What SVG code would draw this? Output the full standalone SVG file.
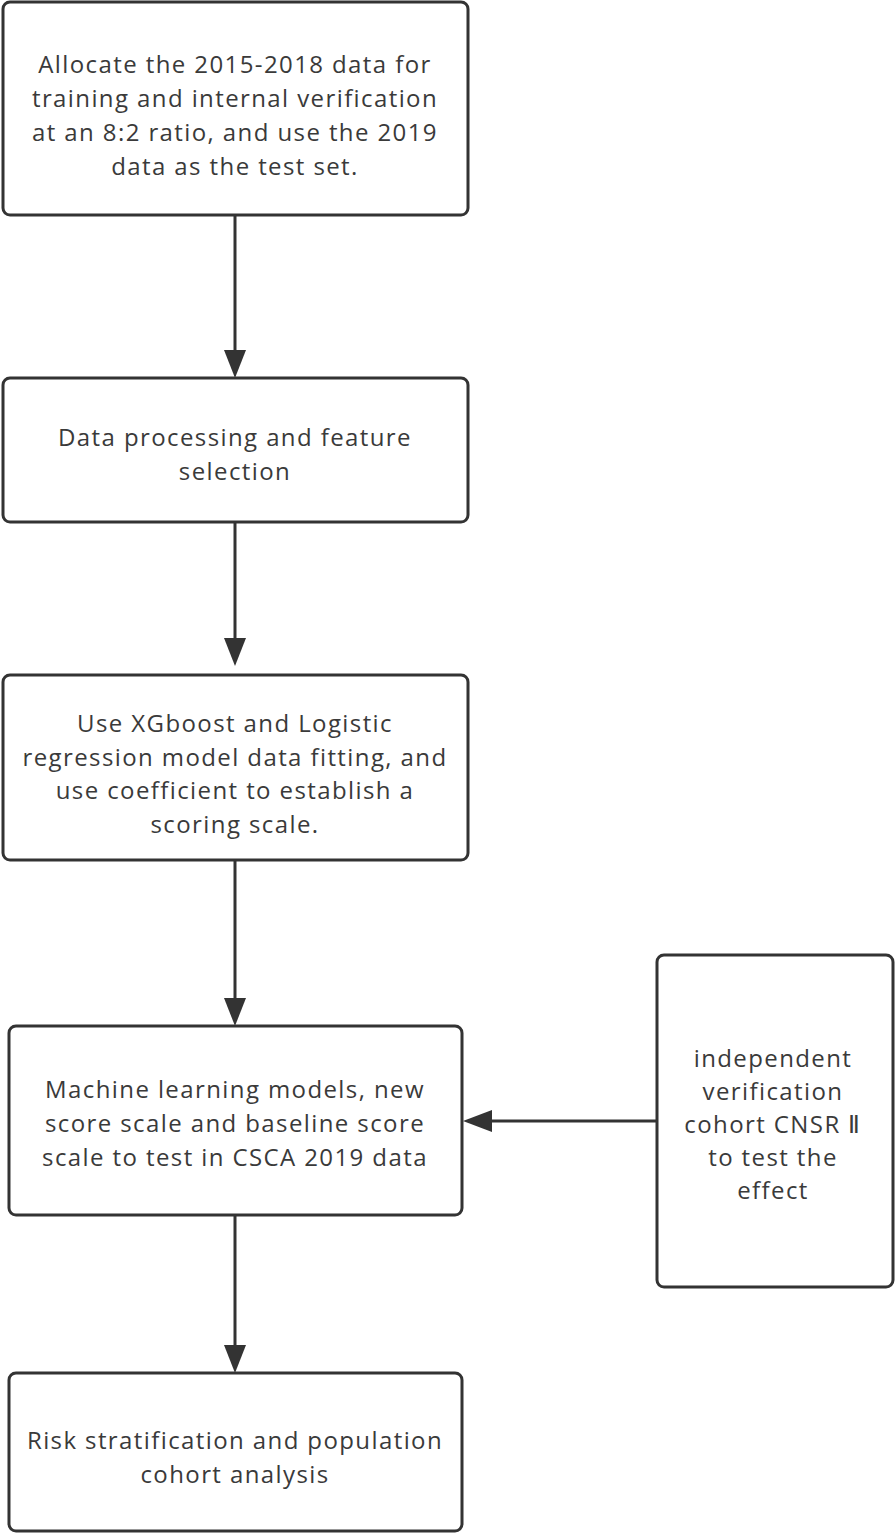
<svg xmlns="http://www.w3.org/2000/svg" width="896" height="1534" viewBox="0 0 896 1534">
<defs>
<style>
.box{fill:#fff;stroke:#333;stroke-width:3}
.t{font-family:"Open Sans","Noto Sans",sans-serif;font-size:24px;letter-spacing:1.4px;fill:#3a3a3a;text-anchor:middle;dominant-baseline:central}
.c{stroke:#333;stroke-width:3;fill:none}
.ah{fill:#333}
</style>
</defs>
<rect width="896" height="1534" fill="#fff"/>
<g id="connectors">
<line class="c" x1="235" y1="215" x2="235" y2="352"/>
<polygon class="ah" points="224,350 246,350 235,378"/>
<line class="c" x1="235" y1="522" x2="235" y2="640"/>
<polygon class="ah" points="224,638 246,638 235,666"/>
<line class="c" x1="235" y1="860" x2="235" y2="1000"/>
<polygon class="ah" points="224,998 246,998 235,1026"/>
<line class="c" x1="235" y1="1215" x2="235" y2="1347"/>
<polygon class="ah" points="224,1345 246,1345 235,1373"/>
<line class="c" x1="657" y1="1121" x2="490" y2="1121"/>
<polygon class="ah" points="492,1110 492,1132 463,1121"/>
</g>
<g id="n1">
<rect class="box" x="3" y="2" width="465" height="213" rx="7"/>
<text class="t" x="235" y="63">Allocate the 2015-2018 data for</text>
<text class="t" x="235" y="97">training and internal verification</text>
<text class="t" x="235" y="131">at an 8:2 ratio, and use the 2019</text>
<text class="t" x="235" y="165">data as the test set.</text>
</g>
<g id="n2">
<rect class="box" x="3" y="378" width="465" height="144" rx="7"/>
<text class="t" x="235" y="436">Data processing and feature</text>
<text class="t" x="235" y="470">selection</text>
</g>
<g id="n3">
<rect class="box" x="3" y="675" width="465" height="185" rx="7"/>
<text class="t" x="235" y="722">Use XGboost and Logistic</text>
<text class="t" x="235" y="756">regression model data fitting, and</text>
<text class="t" x="235" y="789">use coefficient to establish a</text>
<text class="t" x="235" y="823">scoring scale.</text>
</g>
<g id="n4">
<rect class="box" x="9" y="1026" width="453" height="189" rx="7"/>
<text class="t" x="235" y="1088">Machine learning models, new</text>
<text class="t" x="235" y="1122">score scale and baseline score</text>
<text class="t" x="235" y="1156">scale to test in CSCA 2019 data</text>
</g>
<g id="n5">
<rect class="box" x="657" y="955" width="236" height="332" rx="7"/>
<text class="t" x="773" y="1057">independent</text>
<text class="t" x="773" y="1090">verification</text>
<text class="t" x="773" y="1123">cohort CNSR Ⅱ</text>
<text class="t" x="773" y="1156">to test the</text>
<text class="t" x="773" y="1189">effect</text>
</g>
<g id="n6">
<rect class="box" x="9" y="1373" width="453" height="158" rx="7"/>
<text class="t" x="235" y="1439">Risk stratification and population</text>
<text class="t" x="235" y="1473">cohort analysis</text>
</g>
</svg>
